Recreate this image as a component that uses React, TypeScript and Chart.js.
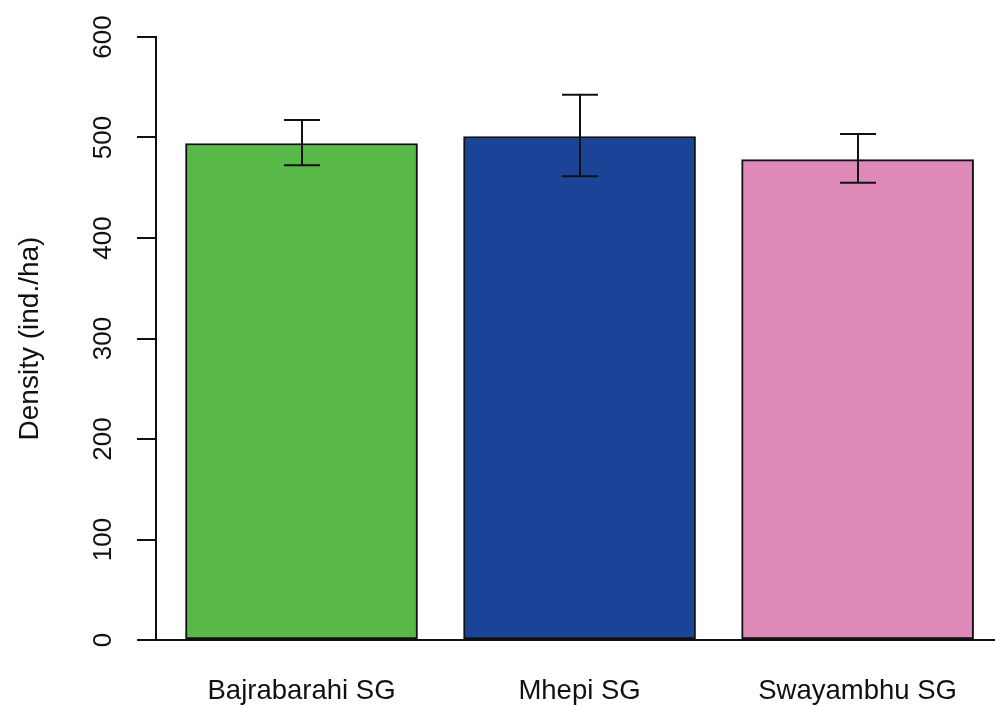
import React, { useEffect, useRef } from "react";
import { Chart, registerables } from "chart.js";

Chart.register(...registerables);

const categories = ["Bajrabarahi SG", "Mhepi SG", "Swayambhu SG"];
const densities = [494, 501, 478];
const errLow = [472.5, 461.5, 455];
const errHigh = [517.5, 542.5, 503.5];
const barColors = ["#58B948", "#1B4499", "#DE89B8"];
const yTicks = [0, 100, 200, 300, 400, 500, 600];
const yTitle = "Density (ind./ha)";

// R barplot midpoints (width 1, space 0.2)
const positions = categories.map((_, i) => 0.7 + 1.2 * i);

const FONT = "'Liberation Sans', Arial, Helvetica, sans-serif";

const errorBarPlugin = {
  id: "errorBars",
  afterDatasetsDraw(chart: any) {
    const { ctx } = chart;
    const meta = chart.getDatasetMeta(0);
    const ys = chart.scales.y;
    ctx.save();
    ctx.strokeStyle = "#111";
    ctx.lineWidth = 2;
    meta.data.forEach((bar: any, i: number) => {
      const x = Math.round(bar.x);
      const yH = ys.getPixelForValue(errHigh[i]);
      const yL = ys.getPixelForValue(errLow[i]);
      ctx.beginPath();
      ctx.moveTo(x, yH);
      ctx.lineTo(x, yL);
      ctx.moveTo(x - 18, yH);
      ctx.lineTo(x + 18, yH);
      ctx.moveTo(x - 18, yL);
      ctx.lineTo(x + 18, yL);
      ctx.stroke();
    });
    ctx.restore();
  },
};

const yLabelPlugin = {
  id: "yRotLabels",
  afterDraw(chart: any) {
    const { ctx } = chart;
    const ys = chart.scales.y;
    ctx.save();
    ctx.fillStyle = "#111";
    ctx.font = `26px ${FONT}`;
    ctx.textAlign = "center";
    ctx.textBaseline = "middle";
    ys.ticks.forEach((t: any) => {
      const y = ys.getPixelForValue(t.value);
      ctx.save();
      ctx.translate(104, y);
      ctx.rotate(-Math.PI / 2);
      ctx.fillText(String(t.value), 0, 0);
      ctx.restore();
    });
    ctx.restore();
  },
};

export default function App() {
  const ref = useRef<HTMLCanvasElement | null>(null);

  useEffect(() => {
    if (!ref.current) return;
    const chart = new Chart(ref.current, {
      type: "bar",
      data: {
        datasets: [
          {
            data: positions.map((x, i) => ({ x, y: densities[i] })),
            backgroundColor: barColors,
            borderColor: "#111",
            borderWidth: 2,
            borderSkipped: false,
            barThickness: 232,
            barPercentage: 1,
            categoryPercentage: 1,
          },
        ],
      },
      options: {
        animation: false,
        responsive: false,
        layout: { padding: { top: 37, right: 0, left: 0, bottom: 0 } },
        plugins: {
          legend: { display: false },
          tooltip: { enabled: false },
        },
        scales: {
          x: {
            type: "linear",
            offset: false,
            min: 0.072,
            max: 3.693,
            grid: { display: false, drawTicks: false, offset: false },
            border: { display: true, color: "#111", width: 2 },
            afterBuildTicks: (scale: any) => {
              scale.ticks = positions.map((v) => ({ value: v }));
            },
            afterFit: (scale: any) => {
              scale.height = 67;
            },
            ticks: {
              autoSkip: false,
              maxRotation: 0,
              minRotation: 0,
              padding: 35,
              color: "#111",
              font: { family: FONT, size: 27.5 },
              callback: (_v: any, i: number) => categories[i],
            },
          },
          y: {
            min: 0,
            max: 600,
            afterBuildTicks: (scale: any) => {
              scale.ticks = yTicks.map((v) => ({ value: v }));
            },
            afterFit: (scale: any) => {
              scale.width = 156;
            },
            grid: {
              display: true,
              drawOnChartArea: false,
              drawTicks: true,
              tickLength: 19,
              color: "#111",
              lineWidth: 2,
            },
            border: { display: true, color: "#111", width: 2 },
            ticks: { display: false },
            title: {
              display: true,
              text: yTitle,
              color: "#111",
              font: { family: FONT, size: 28 },
              padding: { top: 13, bottom: 0 },
            },
          },
        },
      },
      plugins: [errorBarPlugin, yLabelPlugin],
    } as any);
    return () => chart.destroy();
  }, []);

  return (
    <div style={{ position: "absolute", left: 0, top: 0, width: 995, height: 707, background: "#fff" }}>
      <canvas ref={ref} width={995} height={707} style={{ display: "block" }} />
    </div>
  );
}
